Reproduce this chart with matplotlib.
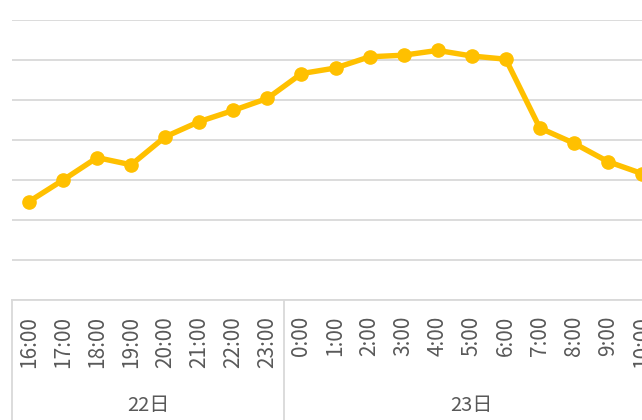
import matplotlib
matplotlib.use("Agg")
import matplotlib.pyplot as plt
import matplotlib.transforms as mtransforms

plt.rcParams['font.family'] = ['Noto Sans CJK JP', 'DejaVu Sans']

hours = ["16:00", "17:00", "18:00", "19:00", "20:00", "21:00", "22:00", "23:00",
         "0:00", "1:00", "2:00", "3:00", "4:00", "5:00", "6:00", "7:00", "8:00", "9:00", "10:00"]
values = [12.3, 15.0, 17.8, 16.9, 20.4, 22.3, 23.7, 25.2,
          28.3, 29.0, 30.4, 30.6, 31.2, 30.5, 30.1, 21.5, 19.6, 17.3, 15.8]
days = ["22日", "23日"]
day_counts = [8, 11]

W, H = 642, 420
fig = plt.figure(figsize=(W / 100, H / 100), dpi=100)
ax = fig.add_axes([12 / W, 120 / H, 647 / W, 280 / H])

x = list(range(len(values)))
ax.plot(x, values, color="#FFC000", lw=3.9, marker="o", ms=9.5, zorder=3, clip_on=False)

ax.set_xlim(-0.5, len(values) - 0.5)
ax.set_ylim(0, 35)
ax.set_yticks(range(0, 36, 5))
ax.yaxis.grid(True, color="#D9D9D9", lw=1.3)
ax.set_axisbelow(True)
for s in ["top", "left", "right"]:
    ax.spines[s].set_visible(False)
ax.spines["bottom"].set_color("#D9D9D9")
ax.spines["bottom"].set_linewidth(1.3)
ax.tick_params(axis="y", length=0, labelleft=False)
ax.set_xticks(x)
ax.set_xticklabels(hours, rotation=90, fontsize=15, color="#595959")
ax.tick_params(axis="x", length=0, pad=11.5)

trans = mtransforms.blended_transform_factory(ax.transData, ax.transAxes)
bottom = -125 / 280
start = -0.5
ax.plot([start, start], [0, bottom], transform=trans, color="#D9D9D9", lw=1.3, clip_on=False)
for d, n in zip(days, day_counts):
    end = start + n
    ax.plot([end, end], [0, bottom], transform=trans, color="#D9D9D9", lw=1.3, clip_on=False)
    ax.text((start + end) / 2, -105 / 280, d, transform=trans, ha="center", va="center",
            fontsize=14.5, color="#595959")
    start = end

fig.savefig("out.png", dpi=100)
